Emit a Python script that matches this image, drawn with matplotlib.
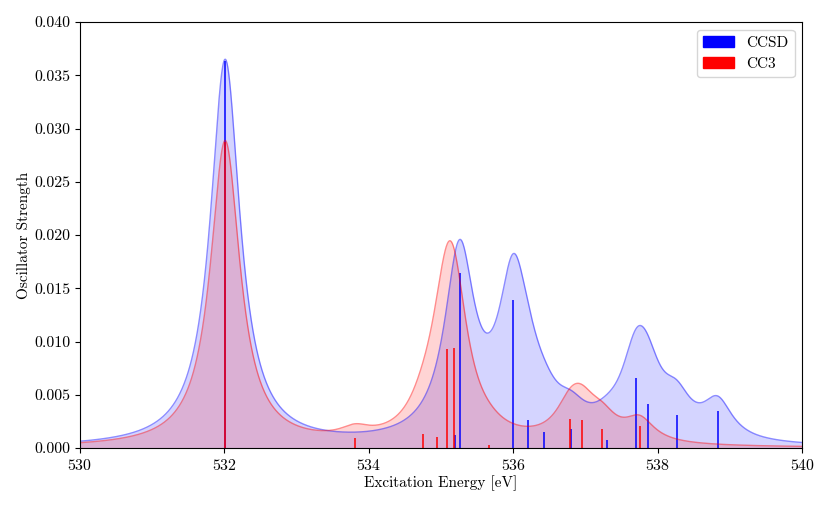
import numpy as np
import matplotlib
matplotlib.use('Agg')
import matplotlib.pyplot as plt
import matplotlib.patches as mpatches
from matplotlib.ticker import FormatStrFormatter

plt.rcParams['font.family'] = 'serif'
plt.rcParams['font.serif'] = ['cmr10']
plt.rcParams['mathtext.fontset'] = 'cm'
plt.rcParams['axes.unicode_minus'] = False
plt.rcParams['axes.formatter.use_mathtext'] = True

# stick spectra (energy in eV, oscillator strength)
ccsd_energy = [532.01, 535.19, 535.26, 536.00, 536.20, 536.43, 536.80,
               537.30, 537.70, 537.86, 538.26, 538.83]
ccsd_strength = [0.0363, 0.0012, 0.0164, 0.0139, 0.0026, 0.0015, 0.0018,
                 0.0008, 0.0066, 0.0041, 0.0031, 0.0035]

cc3_energy = [532.01, 533.81, 534.75, 534.95, 535.08, 535.18, 535.67,
              536.79, 536.95, 537.23, 537.75]
cc3_strength = [0.0287, 0.0009, 0.0013, 0.0010, 0.0093, 0.0094, 0.0003,
                0.0027, 0.0026, 0.0018, 0.0021]

HWHM = 0.25  # Lorentzian half width, eV


def broaden(energy, strength, grid):
    # sum of Lorentzians, each peaking at its stick height
    e = np.asarray(energy)[:, None]
    f = np.asarray(strength)[:, None]
    return (f * HWHM**2 / ((grid - e)**2 + HWHM**2)).sum(axis=0)


grid = np.linspace(530, 540, 2000)

fig = plt.figure(figsize=(8.31, 5.08), dpi=100)
ax = fig.add_axes([0.0963, 0.118, 0.8690, 0.8386])

for energy, strength, color in [(ccsd_energy, ccsd_strength, 'blue'),
                                (cc3_energy, cc3_strength, 'red')]:
    spec = broaden(energy, strength, grid)
    ax.fill_between(grid, spec, color=color, alpha=0.17, linewidth=0)
    ax.plot(grid, spec, color=color, alpha=0.45, linewidth=1.0)
    ax.vlines(energy, 0, strength, color=color, linewidth=1.1)

ax.set_xlim(530, 540)
ax.set_ylim(0, 0.04)
ax.set_xticks(np.arange(530, 541, 2))
ax.set_yticks(np.arange(0, 0.0401, 0.005))
ax.yaxis.set_major_formatter(FormatStrFormatter('%.3f'))
ax.tick_params(labelsize=11.4)
ax.set_xlabel('Excitation Energy [eV]', fontsize=11, labelpad=2)
ax.set_ylabel('Oscillator Strength', fontsize=11, labelpad=2)

handles = [mpatches.Patch(color='blue', label='CCSD'),
           mpatches.Patch(color='red', label='CC3')]
ax.legend(handles=handles, loc='upper right', fontsize=11)

fig.savefig('out.png', dpi=100)
